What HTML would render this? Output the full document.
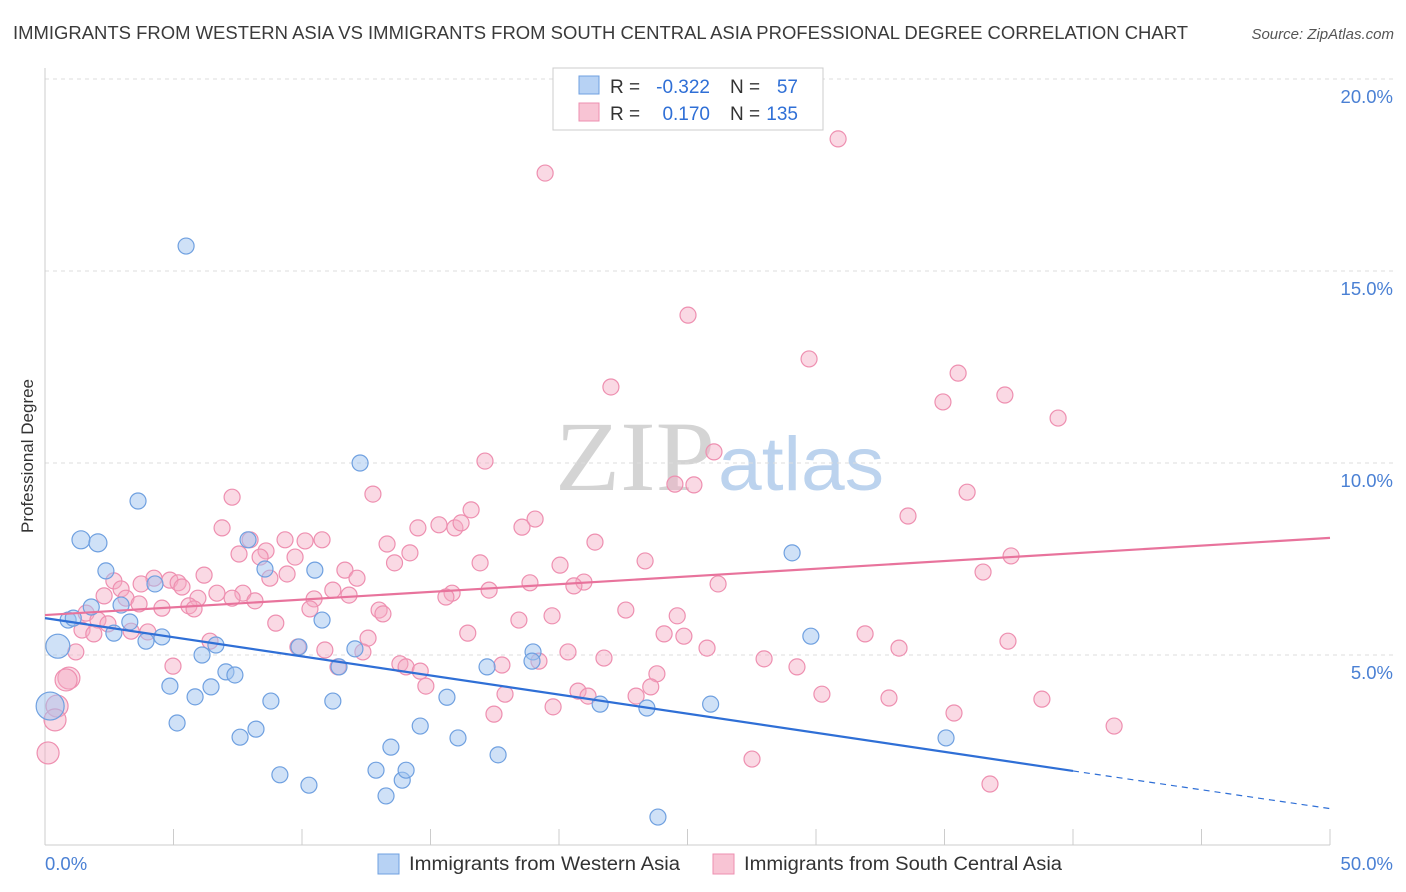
<!DOCTYPE html>
<html><head><meta charset="utf-8"><style>
body{margin:0;background:#fff;font-family:"Liberation Sans",sans-serif;}
svg{display:block}
</style></head><body>
<svg id="chart" width="1406" height="892" xmlns="http://www.w3.org/2000/svg">
<text x="13" y="39" font-size="18" fill="#3a3a3a" textLength="1175" lengthAdjust="spacingAndGlyphs">IMMIGRANTS FROM WESTERN ASIA VS IMMIGRANTS FROM SOUTH CENTRAL ASIA PROFESSIONAL DEGREE CORRELATION CHART</text>
<text x="1394" y="39" font-size="15" fill="#555" font-style="italic" text-anchor="end">Source: ZipAtlas.com</text>
<text transform="translate(33,456) rotate(-90)" font-size="17" fill="#333" text-anchor="middle">Professional Degree</text>
<g>
<text x="635" y="490" font-size="100" font-family="Liberation Serif,serif" fill="#d4d4d4" text-anchor="middle" textLength="160" lengthAdjust="spacingAndGlyphs">ZIP</text>
<text x="801" y="490" font-size="76" fill="#bcd3ee" text-anchor="middle" textLength="166" lengthAdjust="spacingAndGlyphs">atlas</text>
</g>
<g id="grid"></g><g id="axes"></g><g id="pts"></g><g id="lines"></g>
<g>
<rect x="553" y="68" width="270" height="62" fill="#fff" stroke="#ccc"/>
<rect x="579" y="76" width="20" height="18" fill="#b7d2f4" stroke="#6fa0e0"/>
<rect x="579" y="103" width="20" height="18" fill="#f8c4d4" stroke="#ee8fb0"/>
<text x="610" y="93" font-size="19" fill="#333">R =</text>
<text x="710" y="93" font-size="19" fill="#2f6fd6" text-anchor="end">-0.322</text>
<text x="730" y="93" font-size="19" fill="#333">N =</text>
<text x="798" y="93" font-size="19" fill="#2f6fd6" text-anchor="end">57</text>
<text x="610" y="120" font-size="19" fill="#333">R =</text>
<text x="710" y="120" font-size="19" fill="#2f6fd6" text-anchor="end">0.170</text>
<text x="730" y="120" font-size="19" fill="#333">N =</text>
<text x="798" y="120" font-size="19" fill="#2f6fd6" text-anchor="end">135</text>
</g>
<g>
<rect x="378" y="854" width="21" height="20" fill="#b7d2f4" stroke="#6fa0e0"/>
<text x="409" y="870" font-size="19" fill="#333" textLength="271" lengthAdjust="spacingAndGlyphs">Immigrants from Western Asia</text>
<rect x="713" y="854" width="21" height="20" fill="#f8c4d4" stroke="#ee8fb0"/>
<text x="744" y="870" font-size="19" fill="#333" textLength="318" lengthAdjust="spacingAndGlyphs">Immigrants from South Central Asia</text>
</g>
</svg>
<script>
const xTicks=[0,5,10,15,20,25,30,35,40,45,50];
const yTicks=[5,10,15,20];
const blueX=[5.49,0.5,0.2,0.9,1.1,1.4,2.06,1.8,2.37,2.68,2.96,3.3,3.62,3.93,4.28,4.55,4.86,5.14,5.84,6.11,6.46,6.65,7.04,7.39,7.59,8.21,7.9,8.56,8.79,9.14,9.88,10.27,10.5,10.78,11.2,11.44,12.06,12.26,12.88,13.27,13.46,13.9,14.05,14.6,15.64,16.07,17.2,17.63,18.99,18.95,21.6,23.42,23.85,25.9,29.07,29.8,35.06];
const blueY=[15.65,5.23,3.67,5.91,5.96,8.0,7.92,6.25,7.19,5.57,6.30,5.86,9.01,5.36,6.85,5.47,4.19,3.23,3.91,5.0,4.17,5.26,4.56,4.48,2.86,3.07,8.0,7.24,3.8,1.88,5.21,1.61,7.21,5.91,3.8,4.69,5.16,10.0,2.0,1.33,2.6,1.74,2.0,3.15,3.9,2.84,4.69,2.4,5.08,4.84,3.72,3.62,0.78,3.72,7.66,5.49,2.84];
const blueR=[8,12,14,8,8,9,9,8,8,8,8,8,8,8,8,8,8,8,8,8,8,8,8,8,8,8,8,8,8,8,8,8,8,8,8,8,8,8,8,8,8,8,8,8,8,8,8,8,8,8,8,8,8,8,8,8,8];
const pinkX=[30.86,19.46,25.02,29.73,22.02,35.53,34.94,37.35,39.42,26.03,17.12,24.51,25.25,35.88,12.76,7.28,33.58,16.58,19.07,18.56,15.33,15.95,16.19,14.51,6.89,7.98,9.34,10.12,10.78,13.31,21.4,14.2,8.6,7.55,9.73,8.37,13.6,16.93,20.04,23.35,37.59,36.5,11.67,6.19,9.42,12.14,8.75,4.24,4.86,5.18,2.68,3.74,5.33,2.96,18.87,20.97,20.58,26.19,17.28,11.2,6.69,7.70,11.83,15.84,15.60,2.3,3.15,3.66,7.28,8.17,5.95,5.6,5.8,4.55,10.47,10.31,13.0,13.15,18.44,19.73,22.6,24.6,1.6,2.06,2.45,1.44,1.9,3.35,4.0,8.98,16.45,24.09,24.86,31.91,6.42,12.57,9.84,12.37,33.23,37.47,25.76,1.2,10.89,20.35,21.75,4.98,27.98,29.26,13.81,14.05,14.6,17.78,19.22,11.4,23.81,0.93,0.82,14.82,23.57,20.74,21.13,17.9,23.0,30.23,32.84,38.79,0.47,0.39,19.77,17.47,35.37,41.6,0.12,27.51,36.77];
const pinkY=[18.44,17.55,13.85,12.71,11.98,12.34,11.59,11.77,11.17,10.29,10.05,9.45,9.43,9.24,9.19,9.11,8.62,8.78,8.54,8.33,8.39,8.31,8.44,8.31,8.31,8.0,8.0,7.97,8.0,7.89,7.94,7.66,7.71,7.63,7.55,7.55,7.40,7.40,7.34,7.45,7.58,7.16,7.21,7.08,7.11,7.0,7.0,7.0,6.95,6.88,6.93,6.85,6.77,6.72,6.88,6.90,6.80,6.85,6.69,6.69,6.61,6.61,6.56,6.61,6.51,6.54,6.48,6.33,6.48,6.41,6.48,6.28,6.2,6.22,6.46,6.20,6.17,6.07,5.91,6.02,6.17,6.02,6.09,5.91,5.81,5.65,5.55,5.62,5.6,5.83,5.57,5.55,5.49,5.55,5.36,5.44,5.21,5.08,5.18,5.36,5.18,5.08,5.13,5.08,4.92,4.71,4.90,4.69,4.77,4.69,4.58,4.74,4.84,4.69,4.51,4.40,4.35,4.19,4.17,4.06,3.93,3.98,3.93,3.98,3.88,3.85,3.67,3.31,3.65,3.46,3.49,3.15,2.45,2.29,1.64];
const blueLine=[5.96,1.98,1.0]; // at x=0, 40, 50
const pinkLine=[6.04,8.05];
const X=v=>45+v*25.7, Y=v=>847-v*38.4;
const NS="http://www.w3.org/2000/svg";
function mk(p,t,a){const e=document.createElementNS(NS,t);for(const k in a)e.setAttribute(k,a[k]);p.appendChild(e);return e;}
const grid=document.getElementById('grid'),axes=document.getElementById('axes'),pts=document.getElementById('pts'),lines=document.getElementById('lines');
yTicks.forEach(t=>{
const l=mk(grid,'line',{x1:45,x2:1394,y1:Y(t),y2:Y(t),stroke:'#ddd','stroke-dasharray':'4,4'});


const tx=mk(axes,'text',{x:1393,y:Y(t)+24,'font-size':18.5,fill:'#4a80d4','text-anchor':'end'});
tx.textContent=t.toFixed(1)+'%';


});
const ax=mk(axes,'line',{x1:45,x2:1330,y1:845,y2:845,stroke:'#ccc'});


const ay=mk(axes,'line',{x1:45,x2:45,y1:68,y2:845,stroke:'#ccc'});


xTicks.forEach(t=>{
const l=mk(axes,'line',{x1:X(t),x2:X(t),y1:829,y2:845,stroke:'#ccc'});


});
[[0,'start',45],[50,'end',1393]].forEach(([t,anc,px])=>{
const tx=mk(axes,'text',{x:px,y:870,'font-size':18.5,fill:'#4a80d4','text-anchor':anc});
tx.textContent=t.toFixed(1)+'%';


});
pinkX.forEach((x,i)=>{
const c=mk(pts,'circle',{cx:X(x),cy:Y(pinkY[i]),r:(x<1?11:8),fill:'rgba(245,170,195,0.45)',stroke:'#ee8fb0','stroke-width':1.2});


});
blueX.forEach((x,i)=>{
const c=mk(pts,'circle',{cx:X(x),cy:Y(blueY[i]),r:blueR[i],fill:'rgba(160,195,240,0.5)',stroke:'#6fa0e0','stroke-width':1.2});


});
const bl=mk(lines,'line',{x1:X(0),y1:Y(blueLine[0]),x2:X(40),y2:Y(blueLine[1]),stroke:'#2f6fd6','stroke-width':2.2});


const bd=mk(lines,'line',{x1:X(40),y1:Y(blueLine[1]),x2:X(50),y2:Y(blueLine[2]),stroke:'#2f6fd6','stroke-width':1.2,'stroke-dasharray':'6,5'});


const pl=mk(lines,'line',{x1:X(0),y1:Y(pinkLine[0]),x2:X(50),y2:Y(pinkLine[1]),stroke:'#e8739c','stroke-width':2.2});


</script>
</body></html>
